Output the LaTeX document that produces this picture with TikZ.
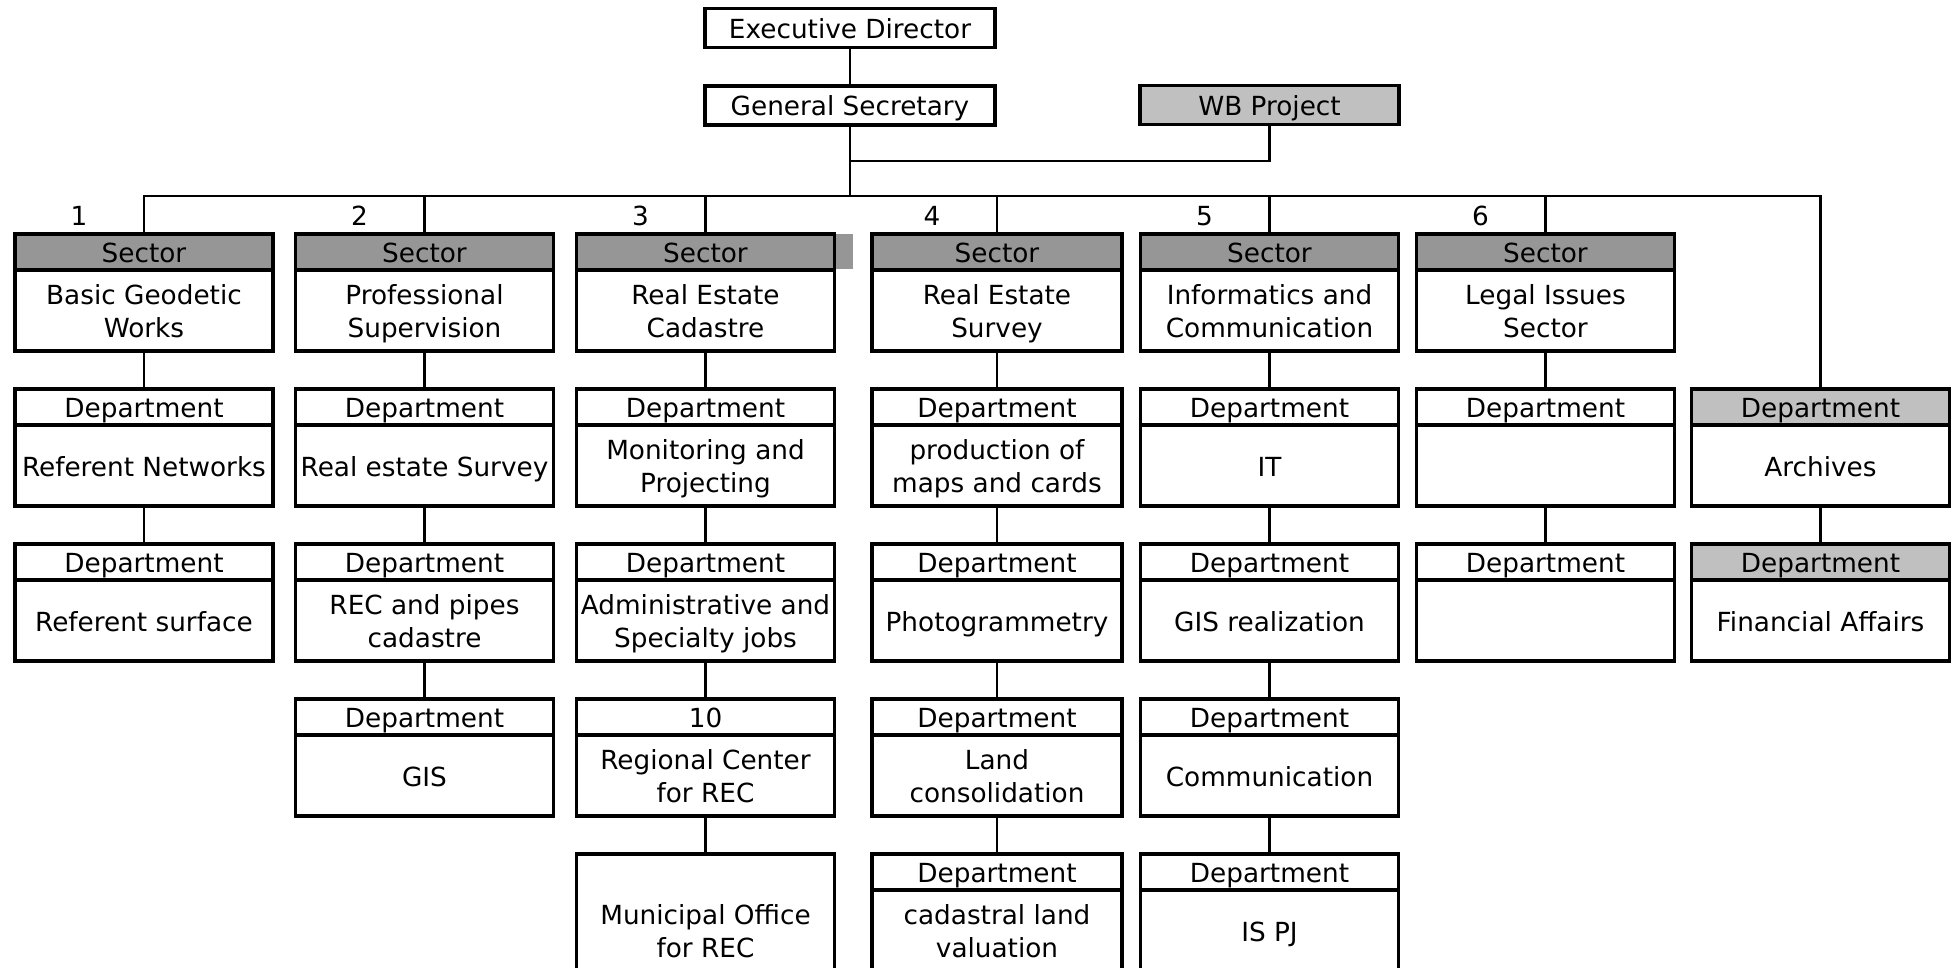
\documentclass[tikz,border=0pt]{standalone}
\usepackage{fontspec}
\setmainfont{DejaVu Sans}
\usetikzlibrary{positioning}
\definecolor{sectorgray}{RGB}{150,150,150}
\definecolor{palegray}{RGB}{192,192,192}
\newcommand{\boxw}{258pt}
\newcommand{\boxstrut}{\rule[-6pt]{0pt}{33pt}}
\newcommand{\twolines}[2]{\boxstrut#1\\#2\boxstrut}
\begin{document}
\begin{tikzpicture}[x=1pt, y=-1pt,
    every node/.style={font=\fontsize{26.3}{33}\selectfont},
    box/.style={draw, line width=3.1pt, inner sep=0pt, outer sep=0pt, align=center,
        execute at begin node=\boxstrut, execute at end node=\boxstrut},
    chief/.style={box, minimum width=290pt, minimum height=39pt},
    hd/.style={box, minimum width=\boxw, minimum height=36pt},
    sector/.style={hd, fill=sectorgray},
    bd/.style={box, minimum width=\boxw, minimum height=81pt, below=0pt of #1},
    link/.style={line width=2.1pt},
    num/.style={inner sep=0pt}]

    \useasboundingbox (0,0) rectangle (1955,968);

    % Top of the chart
    \node[chief] (ed) at (850,28) {Executive Director};
    \node[chief] (gs) at (850,105.5) {General Secretary};
    \node[chief, minimum width=259pt, fill=palegray] (wb) at (1269.5,105) {WB Project};
    \coordinate (wbj) at (850,161);
    \coordinate (bus) at (850,196);

    % Column 1
    \node[sector] (s1) at (144,252) {Sector};
    \node[bd=s1] (s1b) {\twolines{Basic Geodetic}{Works}};
    \node[hd, below=38pt of s1b] (d11) {Department};
    \node[bd=d11] (d11b) {Referent Networks};
    \node[hd, below=38pt of d11b] (d12) {Department};
    \node[bd=d12] (d12b) {Referent surface};

    % Column 2
    \node[sector] (s2) at (424.5,252) {Sector};
    \node[bd=s2] (s2b) {\twolines{Professional}{Supervision}};
    \node[hd, below=38pt of s2b] (d21) {Department};
    \node[bd=d21] (d21b) {Real estate Survey};
    \node[hd, below=38pt of d21b] (d22) {Department};
    \node[bd=d22] (d22b) {\twolines{REC and pipes}{cadastre}};
    \node[hd, below=38pt of d22b] (d23) {Department};
    \node[bd=d23] (d23b) {GIS};

    % Column 3
    \fill[sectorgray] (834,234) rectangle (853,269);
    \node[sector] (s3) at (705.5,252) {Sector};
    \node[bd=s3] (s3b) {\twolines{Real Estate}{Cadastre}};
    \node[hd, below=38pt of s3b] (d31) {Department};
    \node[bd=d31] (d31b) {\twolines{Monitoring and}{Projecting}};
    \node[hd, below=38pt of d31b] (d32) {Department};
    \node[bd=d32] (d32b) {\twolines{Administrative and}{Specialty jobs}};
    \node[hd, below=38pt of d32b] (d33) {10};
    \node[bd=d33] (d33b) {\twolines{Regional Center}{for REC}};
    \node[hd, draw=none, below=38pt of d33b] (d34) {};
    \node[bd=d34, draw=none] (d34b) {\twolines{Municipal Office}{for REC}};
    \draw[box] (d34.north west) rectangle (d34b.south east);

    % Column 4
    \begin{scope}
    \renewcommand{\boxw}{250pt}
    \node[sector] (s4) at (997,252) {Sector};
    \node[bd=s4] (s4b) {\twolines{Real Estate}{Survey}};
    \node[hd, below=38pt of s4b] (d41) {Department};
    \node[bd=d41] (d41b) {\twolines{production of}{maps and cards}};
    \node[hd, below=38pt of d41b] (d42) {Department};
    \node[bd=d42] (d42b) {Photogrammetry};
    \node[hd, below=38pt of d42b] (d43) {Department};
    \node[bd=d43] (d43b) {\twolines{Land}{consolidation}};
    \node[hd, below=38pt of d43b] (d44) {Department};
    \node[bd=d44] (d44b) {\twolines{cadastral land}{valuation}};
    \end{scope}

    % Column 5
    \node[sector] (s5) at (1269.5,252) {Sector};
    \node[bd=s5] (s5b) {\twolines{Informatics and}{Communication}};
    \node[hd, below=38pt of s5b] (d51) {Department};
    \node[bd=d51] (d51b) {IT};
    \node[hd, below=38pt of d51b] (d52) {Department};
    \node[bd=d52] (d52b) {GIS realization};
    \node[hd, below=38pt of d52b] (d53) {Department};
    \node[bd=d53] (d53b) {Communication};
    \node[hd, below=38pt of d53b] (d54) {Department};
    \node[bd=d54] (d54b) {IS PJ};

    % Column 6
    \node[sector] (s6) at (1545.5,252) {Sector};
    \node[bd=s6] (s6b) {\twolines{Legal Issues}{Sector}};
    \node[hd, below=38pt of s6b] (d61) {Department};
    \node[bd=d61] (d61b) {};
    \node[hd, below=38pt of d61b] (d62) {Department};
    \node[bd=d62] (d62b) {};

    % Column 7, directly under the General Secretary
    \node[hd, fill=palegray] (a1) at (1820.5,407) {Department};
    \node[bd=a1] (a1b) {Archives};
    \node[hd, fill=palegray, below=38pt of a1b] (a2) {Department};
    \node[bd=a2] (a2b) {Financial Affairs};

    % Sector numbers
    \node[num] (n1) at ([xshift=-65pt, yshift=18pt]s1.north) {1};
    \node[num] (n2) at ([xshift=-65pt, yshift=18pt]s2.north) {2};
    \node[num] (n3) at ([xshift=-65pt, yshift=18pt]s3.north) {3};
    \node[num] (n4) at ([xshift=-65pt, yshift=18pt]s4.north) {4};
    \node[num] (n5) at ([xshift=-65pt, yshift=18pt]s5.north) {5};
    \node[num] (n6) at ([xshift=-65pt, yshift=18pt]s6.north) {6};

    % Lines
    \draw[link] (ed) -- (gs);
    \draw[link] (gs) -- (bus);
    \draw[link] (wb) |- (wbj);
    \draw[link] (s1) |- (bus) -| (a1);
    \foreach \s in {s2,s3,s4,s5,s6}
        \draw[link] (\s) -- (\s.north |- bus);
    \draw[link] (s1b) -- (d11);
    \draw[link] (d11b) -- (d12);
    \draw[link] (s2b) -- (d21);
    \draw[link] (d21b) -- (d22);
    \draw[link] (d22b) -- (d23);
    \draw[link] (s3b) -- (d31);
    \draw[link] (d31b) -- (d32);
    \draw[link] (d32b) -- (d33);
    \draw[link] (d33b) -- (d34);
    \draw[link] (s4b) -- (d41);
    \draw[link] (d41b) -- (d42);
    \draw[link] (d42b) -- (d43);
    \draw[link] (d43b) -- (d44);
    \draw[link] (s5b) -- (d51);
    \draw[link] (d51b) -- (d52);
    \draw[link] (d52b) -- (d53);
    \draw[link] (d53b) -- (d54);
    \draw[link] (s6b) -- (d61);
    \draw[link] (d61b) -- (d62);
    \draw[link] (a1b) -- (a2);

\end{tikzpicture}
\end{document}
